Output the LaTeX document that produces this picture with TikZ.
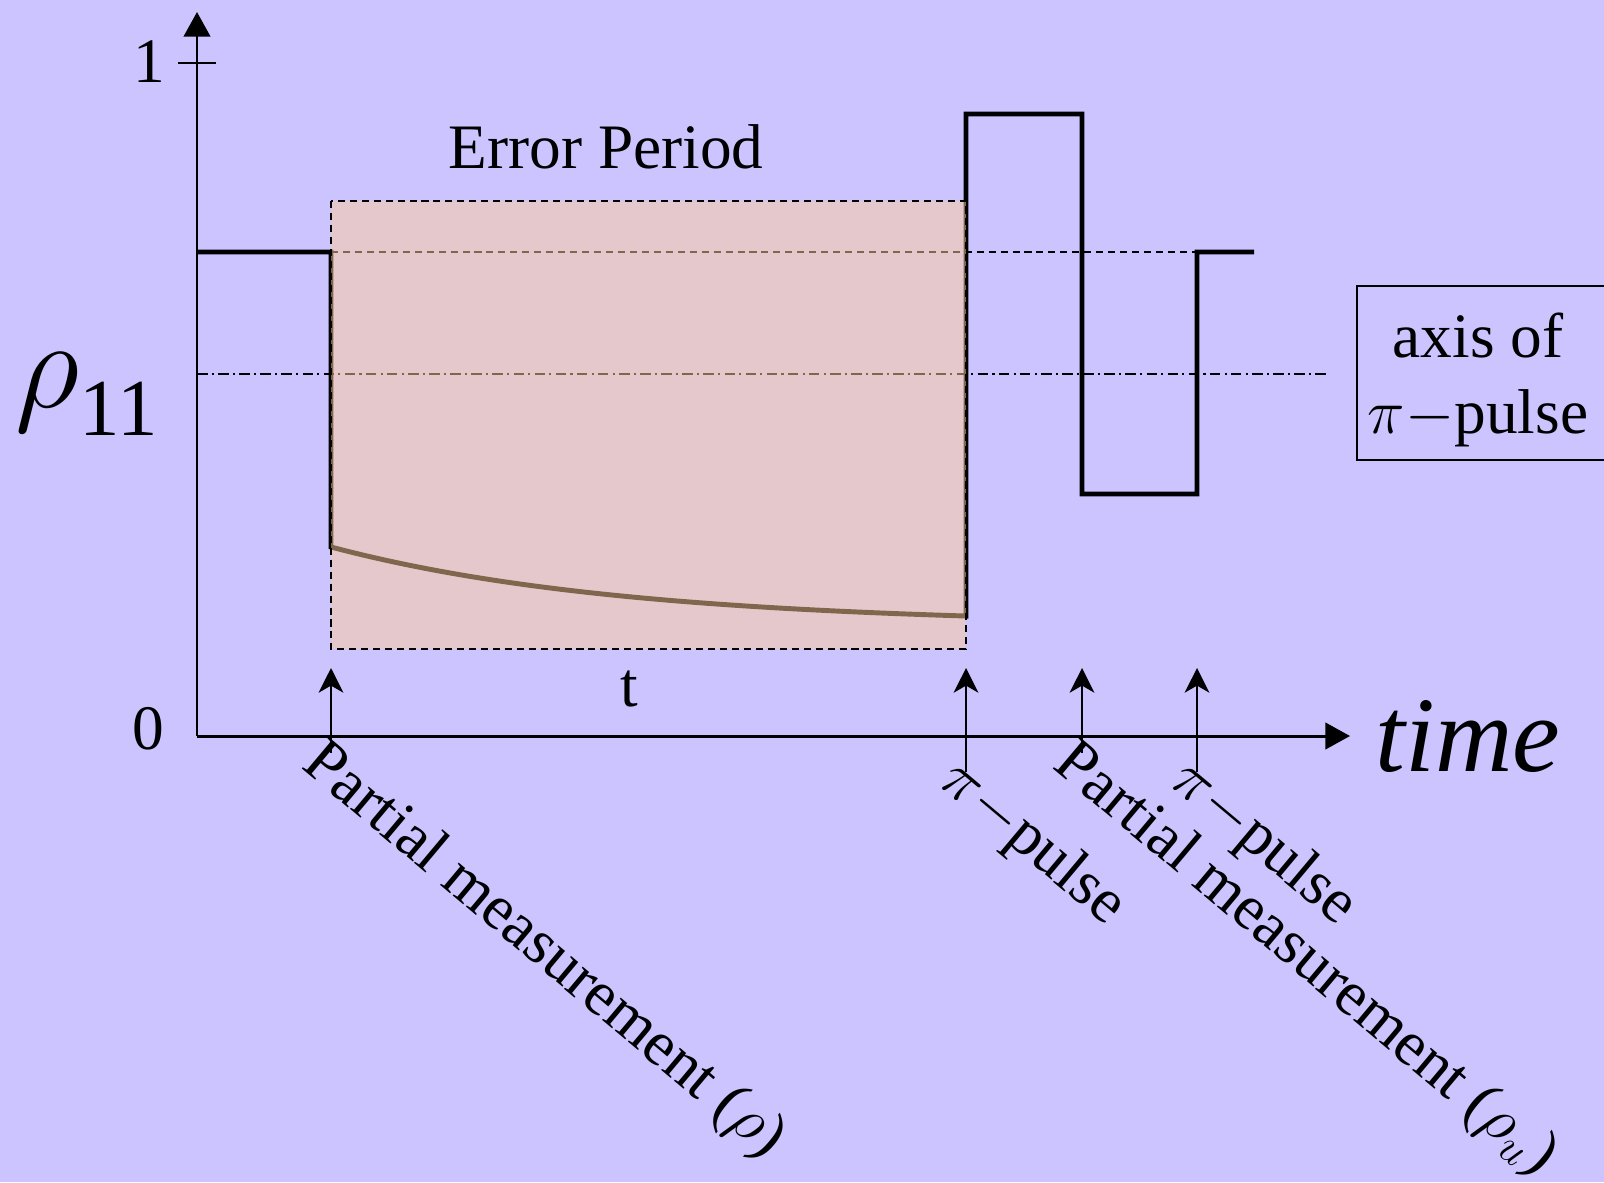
\RequirePackage{fix-cm}
\documentclass[tikz,border=0pt]{standalone}
\usepackage{fontspec}
\setmainfont{Liberation Serif}
\usetikzlibrary{arrows.meta}
\definecolor{fondo}{HTML}{CCC4FF}
\definecolor{melocoton}{HTML}{FFCC99}
\tikzset{
  >={Stealth[length=7pt, width=7pt, inset=2pt]},
  eje/.style={-{Triangle[length=7pt, width=7.5pt]}, line width=0.85pt},
  hilo/.style={line width=1.4pt},
  pulso/.style={->, line width=0.75pt},
  rayas/.style={line width=0.6pt, dash pattern=on 2pt off 1.4pt},
  rayapunto/.style={line width=0.5pt, dash pattern=on 3pt off 1.2pt on 0.6pt off 1.2pt},
  rotulo/.style={font=\fontsize{18}{21.6}\selectfont, inner sep=0pt},
  girado/.style={rotulo, rotate=-40, anchor=north west},
}

\begin{document}
\begin{tikzpicture}[x=0.01cm, y=-0.01cm]
  \fill[fondo] (0,0) rectangle (1604,1182);
  \useasboundingbox (0,0) rectangle (1604,1182);
  % niveles de referencia
  \draw[rayas] (331,252) -- (1197,252);
  \draw[rayapunto] (197,374) -- (1327,374);
  % rho_11 frente al tiempo
  \draw[hilo] (197,252) -- (331,252) -- plot[domain=331:966, samples=60] (\x, {625-78*exp(-0.0034*(\x-331))})
    -- (966,114) -- (1082,114) -- (1082,494) -- (1197,494) -- (1197,252) -- (1254,252);
  % periodo de error
  \fill[melocoton, fill opacity=0.5] (331,201) rectangle (966,649);
  \draw[rayas] (331,201) rectangle (966,649);
  \node[rotulo, anchor=base] (error) at (606,169) {Error Period};
  \node[rotulo, anchor=base] (tiempo) at (629,706) {t};
  % ejes
  \coordinate (origen) at (197,736);
  \coordinate (ytope) at (197,12);
  \coordinate (xfin) at (1350,736);
  \draw[eje] (origen) -- (ytope);
  \draw[eje] (origen) -- (xfin);
  \draw[line width=0.8pt] (178,63) -- (216,63);
  \node[rotulo, anchor=base east] (uno) at (166,83) {1};
  \node[rotulo, anchor=base east] (cero) at (165,749) {0};
  \node[inner sep=0pt, anchor=base west, font=\fontsize{36}{42}\selectfont] (rho) at (15,407)
    {$\rho$\raisebox{-0.28cm}{\fontsize{23}{27}\selectfont 11}};
  \node[inner sep=0pt, anchor=base west, font=\fontsize{30.5}{36}\selectfont\itshape] (time) at (1375,771) {time};
  % pulsos y medidas
  \foreach \n/\x/\y in {a/331/753, b/966/772, c/1082/753, d/1197/772} {
    \coordinate (pie\n) at (\x,\y);
    \coordinate (punta\n) at (\x,668);
    \draw[pulso] (pie\n) -- (punta\n);
  }
  \node[girado] (medida1) at (329,733) {Partial measurement ($\rho$)};
  \node[girado] (pulso1) at (966,750) {$\pi-$pulse};
  \node[girado] (medida2) at (1080,733) {Partial measurement ($\rho_u$)};
  \node[girado] (pulso2) at (1197,750) {$\pi-$pulse};
  % eje del pulso pi
  \draw[line width=0.7pt] (1357,286) rectangle (1612,460);
  \node[rotulo, align=center] (caja) at (1478,380) {axis of\\$\pi-$pulse};
\end{tikzpicture}
\end{document}
